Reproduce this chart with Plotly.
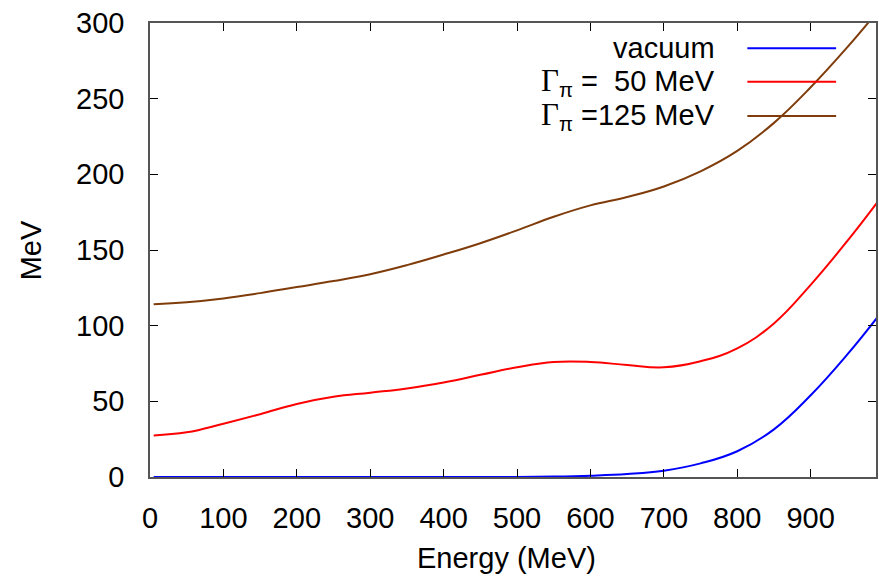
import plotly.graph_objects as go

energy = [5, 50, 100, 150, 200, 250, 300, 350, 400, 450, 500, 550, 600, 650, 700, 750, 800, 850, 900, 950, 990]
vacuum = [0, 0, 0, 0, 0, 0, 0, 0, 0, 0, 0.05, 0.3, 0.9, 2.0, 4.2, 9.0, 17.0, 31.5, 54, 81, 105]
gamma50 = [27.5, 29.5, 35.2, 41.5, 48.3, 53, 55.7, 58.5, 62.5, 67.5, 72.5, 76, 76, 74, 72.5, 76.5, 85, 101.5, 127, 156, 181]
gamma125 = [114.2, 115.5, 118, 121.5, 125.5, 129.5, 134, 140, 147, 154.5, 163, 172, 179.5, 185, 192, 202, 215.5, 234, 257.5, 284, 307]

names = ["vacuum", "Γ<sub>π</sub> =\u00a0\u00a050 MeV", "Γ<sub>π</sub> =125 MeV"]
colors = ["#0000ff", "#ff0000", "#7f3c0a"]
series = [vacuum, gamma50, gamma125]

x_ticks = [0, 100, 200, 300, 400, 500, 600, 700, 800, 900]
y_ticks = [0, 50, 100, 150, 200, 250, 300]

FONT = "Liberation Sans, Arial, Helvetica, sans-serif"

fig = go.Figure()
for ys, c, n in zip(series, colors, names):
    fig.add_trace(go.Scatter(x=energy, y=ys, mode="lines", name=n,
                             line=dict(color=c, width=2, shape="spline", smoothing=1.2),
                             showlegend=False))

W, H = 879, 581
L, R, T, B = 150, 1, 23, 104
pw = W - L - R
ph = H - T - B

def px2paper_x(px):
    return (px - L) / pw

def px2paper_y(py):
    return (H - B - py) / ph

legend_rows = [48.3, 81.7, 116]
annotations = []
shapes = []
for n, c, yy in zip(names, colors, legend_rows):
    txt = n.replace("Γ", "<span style='font-family:Liberation Serif, DejaVu Serif, serif;font-size:31px'>Γ</span>")
    annotations.append(dict(xref="paper", yref="paper", x=px2paper_x(719), y=px2paper_y(yy),
                            xanchor="right", yanchor="middle", text=txt, showarrow=False,
                            font=dict(family=FONT, size=29, color="black")))
    shapes.append(dict(type="line", xref="paper", yref="paper",
                       x0=px2paper_x(749), x1=px2paper_x(838),
                       y0=px2paper_y(yy), y1=px2paper_y(yy),
                       line=dict(color=c, width=2)))

annotations.append(dict(xref="paper", yref="paper", x=px2paper_x(507), y=px2paper_y(558),
                        xanchor="center", yanchor="middle", text="Energy (MeV)", showarrow=False,
                        font=dict(family=FONT, size=29, color="black")))
annotations.append(dict(xref="paper", yref="paper", x=px2paper_x(31), y=0.5,
                        xanchor="center", yanchor="middle", text="MeV", textangle=-90, showarrow=False,
                        font=dict(family=FONT, size=29, color="black")))

axis_common = dict(ticks="inside", ticklen=8, tickwidth=1, tickcolor="black",
                   showline=True, linecolor="#555555", linewidth=1.5, mirror="ticks",
                   showgrid=False, zeroline=False,
                   tickfont=dict(family=FONT, size=29, color="black"))

fig.update_layout(
    width=W, height=H,
    margin=dict(l=L, r=R, t=T, b=B),
    paper_bgcolor="white", plot_bgcolor="white",
    xaxis=dict(range=[0, 989], tickmode="array", tickvals=x_ticks,
               ticktext=[str(v) for v in x_ticks], ticklabelstandoff=14, **axis_common),
    yaxis=dict(range=[0, 300], tickmode="array", tickvals=y_ticks,
               ticktext=[str(v) for v in y_ticks], ticklabelstandoff=18, **axis_common),
    annotations=annotations,
    shapes=shapes,
)

fig.write_html("out.html")
